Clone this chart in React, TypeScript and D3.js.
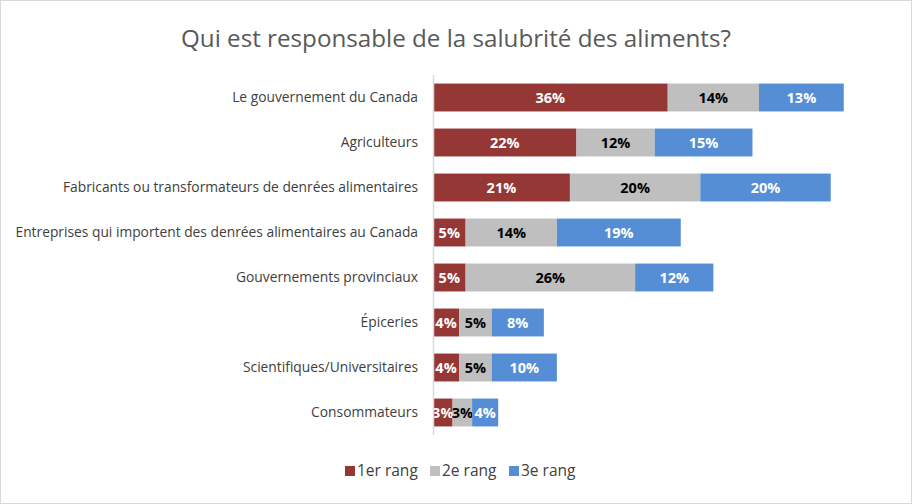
import React from "react";
import * as d3 from "d3";

const categories = [
  "Le gouvernement du Canada",
  "Agriculteurs",
  "Fabricants ou transformateurs de denrées alimentaires",
  "Entreprises qui importent des denrées alimentaires au Canada",
  "Gouvernements provinciaux",
  "Épiceries",
  "Scientifiques/Universitaires",
  "Consommateurs",
];
const rang1 = [36, 22, 21, 5, 5, 4, 4, 3];
const rang2 = [14, 12, 20, 14, 26, 5, 5, 3];
const rang3 = [13, 15, 20, 19, 12, 8, 10, 4];
const seriesNames = ["1er rang", "2e rang", "3e rang"];
const colors = ["#953735", "#BFBFBF", "#558ED5"];
const labelColors = ["#FFFFFF", "#000000", "#FFFFFF"];

const W = 912;
const H = 504;
const FONT = "'Open Sans', 'Noto Sans', sans-serif";

export default function App() {
  const x = d3.scaleLinear().domain([0, 70]).range([433, 433 + 70 * 6.52]);
  const y = d3.scaleBand().domain(categories).range([75, 435]).paddingInner(0.38).paddingOuter(0.19);
  const series = [rang1, rang2, rang3];
  const rows = categories.map((c, i) => {
    let acc = 0;
    return series.map((s, k) => {
      const x0 = acc;
      acc += s[i];
      return { k, x0, x1: acc, v: s[i], c };
    });
  });
  const legendX = [345, 430, 509];
  return (
    <svg width={W} height={H} style={{ position: "absolute", left: 0, top: 0, display: "block" }} fontFamily={FONT}>
      <rect x={0.5} y={0.5} width={W - 1} height={H - 1} fill="#fff" stroke="#D9D9D9" />
      <text x={456} y={47} textAnchor="middle" fontSize={24.2} fill="#595959">
        Qui est responsable de la salubrité des aliments?
      </text>
      {rows.map((segs, i) => (
        <g key={i}>
          {segs.map((d) => (
            <g key={d.k}>
              <rect x={x(d.x0)} y={y(d.c)} width={x(d.x1) - x(d.x0)} height={y.bandwidth()} fill={colors[d.k]} />
              <text
                x={(x(d.x0) + x(d.x1)) / 2}
                y={(y(d.c) as number) + y.bandwidth() / 2}
                dy="0.36em"
                textAnchor="middle"
                fontSize={14.5}
                fontWeight="bold"
                fill={labelColors[d.k]}
              >
                {d.v}%
              </text>
            </g>
          ))}
          <text
            x={418}
            y={(y(categories[i]) as number) + y.bandwidth() / 2}
            dy="0.35em"
            textAnchor="end"
            fontSize={13.8}
            fill="#404040"
          >
            {categories[i]}
          </text>
        </g>
      ))}
      <line x1={433.5} x2={433.5} y1={75} y2={435} stroke="#D9D9D9" strokeWidth={1.5} />
      {seriesNames.map((n, k) => (
        <g key={n}>
          <rect x={legendX[k]} y={466} width={10} height={10} fill={colors[k]} />
          <text x={legendX[k] + 12} y={471} dy="0.35em" fontSize={15.5} fill="#404040">
            {n}
          </text>
        </g>
      ))}
    </svg>
  );
}
